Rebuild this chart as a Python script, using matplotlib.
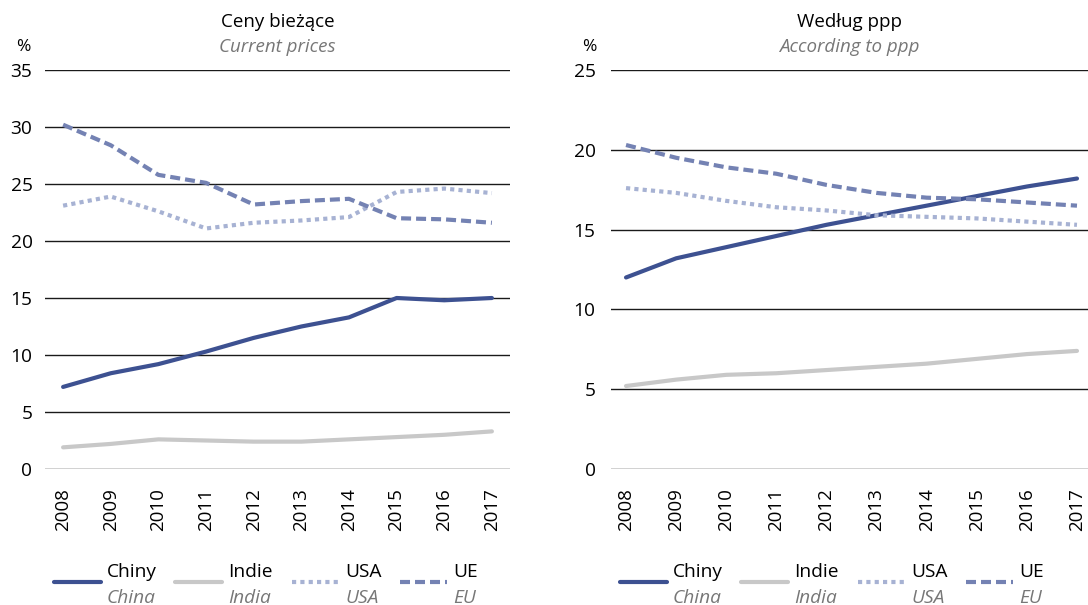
import matplotlib.pyplot as plt
from matplotlib.lines import Line2D

plt.rcParams["font.family"] = ["Open Sans", "DejaVu Sans"]

years = list(range(2008, 2018))

# Ceny bieżące / Current prices
chiny_cur = [7.2, 8.4, 9.2, 10.3, 11.5, 12.5, 13.3, 15.0, 14.8, 15.0]
indie_cur = [1.9, 2.2, 2.6, 2.5, 2.4, 2.4, 2.6, 2.8, 3.0, 3.3]
usa_cur = [23.1, 23.9, 22.6, 21.1, 21.6, 21.8, 22.1, 24.3, 24.6, 24.2]
ue_cur = [30.2, 28.4, 25.8, 25.1, 23.2, 23.5, 23.7, 22.0, 21.9, 21.6]

# Według ppp / According to ppp
chiny_ppp = [12.0, 13.2, 13.9, 14.6, 15.3, 15.9, 16.5, 17.1, 17.7, 18.2]
indie_ppp = [5.2, 5.6, 5.9, 6.0, 6.2, 6.4, 6.6, 6.9, 7.2, 7.4]
usa_ppp = [17.6, 17.3, 16.8, 16.4, 16.2, 15.9, 15.8, 15.7, 15.5, 15.3]
ue_ppp = [20.3, 19.5, 18.9, 18.5, 17.8, 17.3, 17.0, 16.9, 16.7, 16.5]

names_pl = ["Chiny", "Indie", "USA", "UE"]
names_en = ["China", "India", "USA", "EU"]

styles = [
    dict(color="#3d5191", linestyle="-", solid_capstyle="round"),
    dict(color="#c8c8c8", linestyle="-", solid_capstyle="round"),
    dict(color="#a7b2d3", linestyle=(0, (1, 1)), dash_capstyle="butt"),
    dict(color="#7482b3", linestyle=(0, (2.4, 1.2)), dash_capstyle="butt"),
]
LW = 3.0
FS = 13.8

W, H = 1088, 605
fig = plt.figure(figsize=(W / 100, H / 100), dpi=100)

panels = [
    dict(rect=(45, 510), title="Ceny bieżące", sub="Current prices", ymax=35,
         xlim=(2007.62, 2017.38), data=[chiny_cur, indie_cur, usa_cur, ue_cur], pad=9),
    dict(rect=(611, 1088), title="Według ppp", sub="According to ppp", ymax=25,
         xlim=(2007.7, 2017.22), data=[chiny_ppp, indie_ppp, usa_ppp, ue_ppp], pad=11),
]

top_px, bot_px = 70, 469
leg_offsets = [9, 130, 247, 355]
leg_len = 47

for p in panels:
    x0, x1 = p["rect"]
    ax = fig.add_axes([x0 / W, 1 - bot_px / H, (x1 - x0) / W, (bot_px - top_px) / H])
    for vals, st in zip(p["data"], styles):
        ax.plot(years, vals, lw=LW, **st)
    ax.set_xlim(*p["xlim"])
    ax.set_ylim(0, p["ymax"])
    ax.set_yticks(range(0, p["ymax"] + 1, 5))
    ax.set_xticks(years)
    ax.set_xticklabels([str(y) for y in years], rotation=90, fontsize=13.5)
    ax.tick_params(axis="y", length=0, labelsize=FS, pad=p["pad"])
    ax.tick_params(axis="x", length=0, pad=14)
    ax.grid(axis="y", color="#1a1a1a", lw=1.0)
    ax.set_axisbelow(True)
    for s in ax.spines.values():
        s.set_visible(False)

    cx = (x0 + x1) / 2 / W
    fig.text(cx, 1 - 22 / H, p["title"], ha="center", va="center", fontsize=13.5)
    fig.text(cx, 1 - 47 / H, p["sub"], ha="center", va="center", fontsize=13.5,
             style="italic", color="#777777")
    fig.text((x0 - 22) / W, 1 - 47 / H, "%", ha="center", va="center", fontsize=12.5)

    # legend drawn under the panel
    for off, st, pl, en in zip(leg_offsets, styles, names_pl, names_en):
        lx = x0 + off
        fig.add_artist(Line2D([lx / W, (lx + leg_len) / W], [1 - 582 / H] * 2,
                              lw=LW, **st))
        fig.text((lx + leg_len + 6) / W, 1 - 572 / H, pl, ha="left", va="center",
                 fontsize=FS)
        fig.text((lx + leg_len + 6) / W, 1 - 598 / H, en, ha="left", va="center",
                 fontsize=FS, style="italic", color="#777777")

fig.savefig("out.png", dpi=100)
